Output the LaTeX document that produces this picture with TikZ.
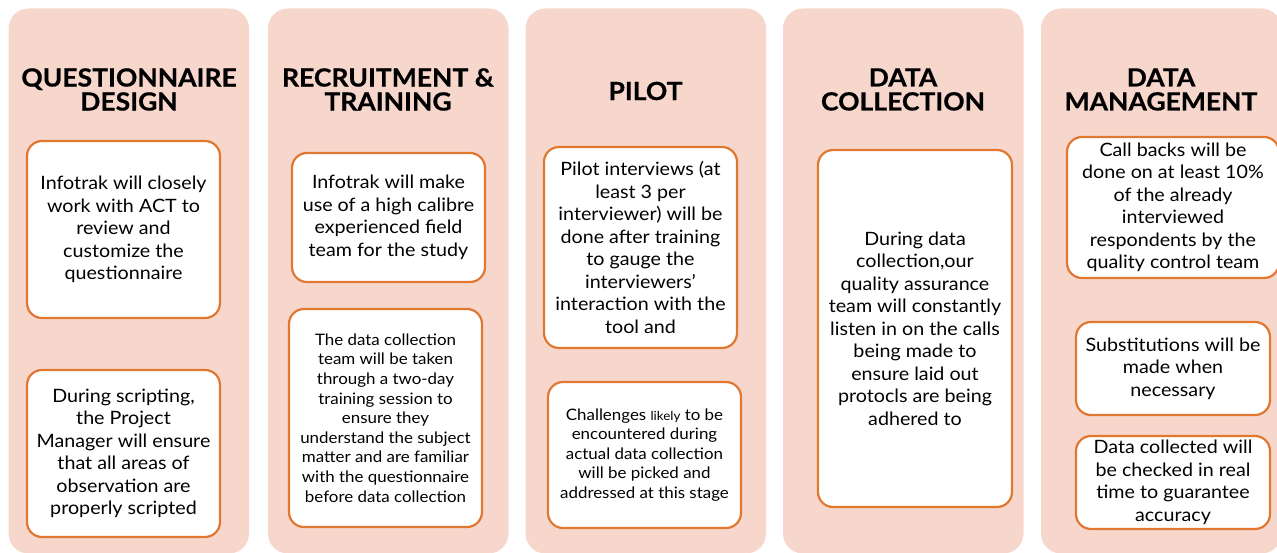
\documentclass[tikz,border=0pt]{standalone}
\usepackage{fontspec}
\setmainfont{Lato}[FakeStretch=1.07]
\newfontfamily\titlefont{Lato}[FakeStretch=1.06, BoldFeatures={FakeBold=0.6}]
\definecolor{pinkbg}{RGB}{247,214,204}
\definecolor{orangeline}{RGB}{224,120,50}
\tikzset{
  colbg/.style={fill=pinkbg, draw=none, rounded corners=20pt, inner sep=0pt, minimum width=240.5pt, minimum height=545pt},
  title/.style={font=\titlefont\fontsize{25}{24}\selectfont\bfseries, align=center, text=black, inner sep=0pt},
  stagebox/.style={draw=orangeline, line width=2.2pt, fill=white, rounded corners=15pt, align=center, inner sep=0pt, text=black, font=\fontsize{18.4}{22.5}\selectfont},
  smallbox/.style={stagebox, font=\fontsize{15.8}{19.6}\selectfont}
}
\begin{document}
\begin{tikzpicture}[x=1pt,y=-1pt]
\useasboundingbox (0,0) rectangle (1277,553);
% column backgrounds
\node[colbg] (col1) at (128.75,281) {};
\node[colbg] (col2) at (388.25,281) {};
\node[colbg] (col3) at (645.75,281) {};
\node[colbg] (col4) at (903.25,281) {};
\node[colbg] (col5) at (1161.25,281) {};
% titles
\node[title] (t1) at (129,89.5) {QUESTIONNAIRE\\DESIGN};
\node[title] (t2) at (388,89.5) {RECRUITMENT \&\\TRAINING};
\node[title] (t3) at (645.5,91) {PILOT};
\node[title] (t4) at (903,89.5) {DATA\\COLLECTION};
\node[title] (t5) at (1161,89.5) {DATA\\MANAGEMENT};
% column 1
\node[stagebox, minimum width=193pt, minimum height=177pt] (q1) at (123.5,229.5)
  {Infotrak will closely\\work with ACT to\\review and\\customize the\\questionnaire};
\node[stagebox, minimum width=193pt, minimum height=167pt] (q2) at (123.5,453.5)
  {During scripting,\\the Project\\Manager will ensure\\that all areas of\\observation are\\properly scripted};
% column 2
\node[stagebox, minimum width=193pt, minimum height=129pt] (r1) at (388.5,217.5)
  {Infotrak will make\\use of a high calibre\\experienced field\\team for the study};
\node[smallbox, minimum width=193pt, minimum height=218pt] (r2) at (385.5,418)
  {The data collection\\team will be taken\\through a two-day\\training session to\\ensure they\\understand the subject\\matter and are familiar\\with the questionnaire\\before data collection};
% column 3
\node[stagebox, minimum width=193pt, minimum height=201pt] (p1) at (640.5,247.5)
  {Pilot interviews (at\\least 3 per\\interviewer) will be\\done after training\\to gauge the\\interviewers’\\interaction with the\\tool and};
\node[smallbox, minimum width=193pt, minimum height=146pt] (p2) at (644.5,455)
  {Challenges {\fontsize{12.5}{19.6}\selectfont likely} to be\\encountered during\\actual data collection\\will be picked and\\addressed at this stage};
% column 4
\node[stagebox, minimum width=194pt, minimum height=357pt] (d1) at (915,328.5)
  {During data\\collection,our\\quality assurance\\team will constantly\\listen in on the calls\\being made to\\ensure laid out\\protocls are being\\adhered to};
% column 5
\node[stagebox, minimum width=212pt, minimum height=141pt] (m1) at (1173,207.5)
  {Call backs will be\\done on at least 10\%\\of the already\\interviewed\\respondents by the\\quality control team};
\node[stagebox, minimum width=194pt, minimum height=93pt] (m2) at (1173,368.5)
  {Substitutions will be\\made when\\necessary};
\node[stagebox, minimum width=194pt, minimum height=93pt] (m3) at (1173,482.5)
  {Data collected will\\be checked in real\\time to guarantee\\accuracy};
\end{tikzpicture}
\end{document}
